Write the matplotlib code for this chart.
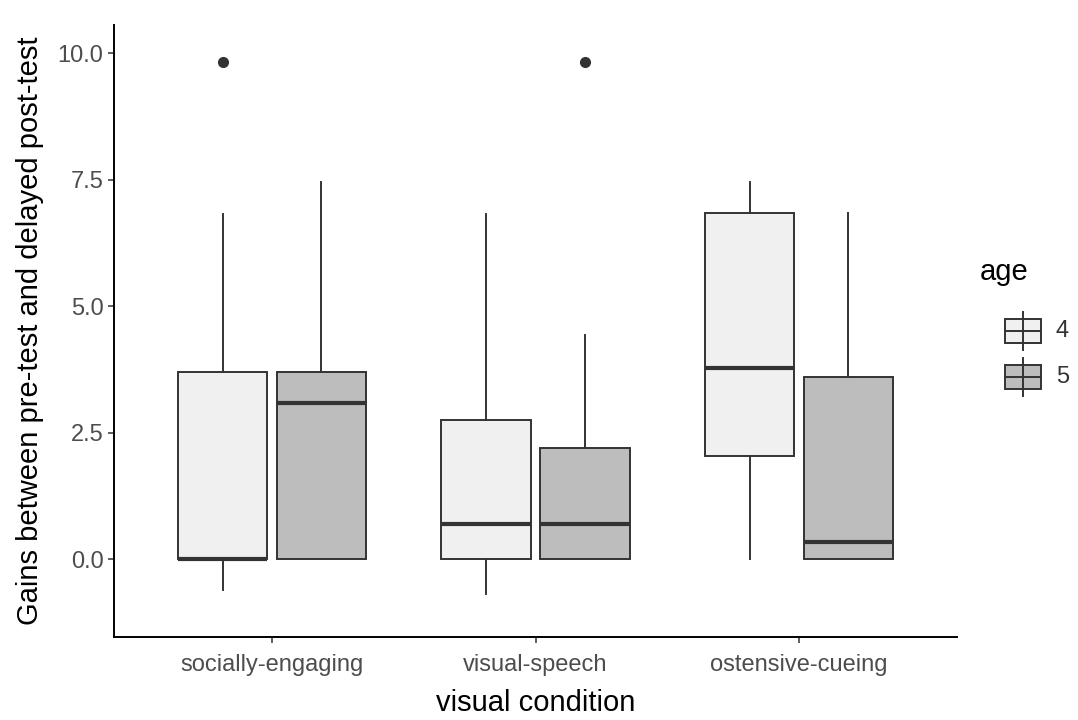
import matplotlib
matplotlib.use("Agg")
import matplotlib.pyplot as plt
from matplotlib.patches import Rectangle
from matplotlib.lines import Line2D

plt.rcParams['font.family'] = ['Liberation Sans', 'DejaVu Sans']

# ---- data ----
conditions = ["socially-engaging", "visual-speech", "ostensive-cueing"]
ages = ["4", "5"]
q1_age4 = [0.0, 0.0, 2.04]
med_age4 = [0.0, 0.69, 3.78]
q3_age4 = [3.70, 2.75, 6.84]
lo_age4 = [-0.62, -0.69, 0.0]
hi_age4 = [6.83, 6.83, 7.46]
out_age4 = [[9.83], [], []]

q1_age5 = [0.0, 0.0, 0.0]
med_age5 = [3.09, 0.69, 0.34]
q3_age5 = [3.70, 2.19, 3.60]
lo_age5 = [0.0, 0.0, 0.0]
hi_age5 = [7.45, 4.43, 6.84]
out_age5 = [[], [9.83], []]

fills = ["#F0F0F0", "#BDBDBD"]
edge = "#333333"

W, H = 1078, 720
fig = plt.figure(figsize=(W / 100, H / 100), dpi=100)
ax = fig.add_axes([114 / W, 1 - 637 / H, (957 - 114) / W, (637 - 25) / H])

series = [
    (q1_age4, med_age4, q3_age4, lo_age4, hi_age4, out_age4),
    (q1_age5, med_age5, q3_age5, lo_age5, hi_age5, out_age5),
]
offsets = [-0.1875, 0.1875]
for k, (q1, med, q3, lo, hi, outs) in enumerate(series):
    stats = []
    for i in range(len(conditions)):
        stats.append(dict(med=med[i], q1=q1[i], q3=q3[i], whislo=lo[i],
                          whishi=hi[i], fliers=outs[i]))
    pos = [i + 1 + offsets[k] for i in range(len(conditions))]
    ax.bxp(stats, positions=pos, widths=0.34, patch_artist=True,
           showcaps=False, manage_ticks=False,
           boxprops=dict(facecolor=fills[k], edgecolor=edge, linewidth=1.4),
           whiskerprops=dict(color=edge, linewidth=1.4),
           medianprops=dict(color=edge, linewidth=3.0, solid_capstyle='butt'),
           flierprops=dict(marker='o', markerfacecolor=edge, markeredgecolor=edge,
                           markersize=7, linestyle='none'))

ax.set_xlim(0.4, 3.6)
ax.set_ylim(-1.54, 10.56)
ax.set_xticks([1, 2, 3])
ax.set_xticklabels(conditions)
ax.set_yticks([0, 2.5, 5.0, 7.5, 10.0])
ax.set_yticklabels(["0.0", "2.5", "5.0", "7.5", "10.0"])
for s in ["top", "right"]:
    ax.spines[s].set_visible(False)
for s in ["left", "bottom"]:
    ax.spines[s].set_linewidth(1.4)
    ax.spines[s].set_color("black")
ax.tick_params(axis='both', length=4.5, width=1.1, color=edge, labelsize=17,
               labelcolor="#4D4D4D", pad=3)
ax.tick_params(axis='x', pad=8)
ax.set_xlabel("visual condition", fontsize=21, color="black", labelpad=9)
ax.set_ylabel("Gains between pre-test and delayed post-test", fontsize=21,
              color="black", labelpad=10)

# ---- legend ----
fig.text(980 / W, 1 - 272 / H, "age", fontsize=21, ha='left', va='center')
key_y = [331, 377]
for k, lab in enumerate(ages):
    cy = key_y[k]
    x0, x1 = 1005, 1041
    fig.add_artist(Line2D([(x0 + x1) / 2 / W] * 2, [1 - (cy - 19) / H, 1 - (cy + 19) / H],
                          color=edge, linewidth=1.4))
    fig.add_artist(Rectangle((x0 / W, 1 - (cy + 12) / H), (x1 - x0) / W, 24 / H,
                             facecolor=fills[k], edgecolor=edge, linewidth=1.4))
    fig.add_artist(Line2D([x0 / W, x1 / W], [1 - cy / H] * 2, color=edge, linewidth=1.4))
    fig.text(1056 / W, 1 - cy / H, lab, fontsize=17, ha='left', va='center',
             color="#333333")

fig.savefig("out.png", dpi=100, facecolor="white")
